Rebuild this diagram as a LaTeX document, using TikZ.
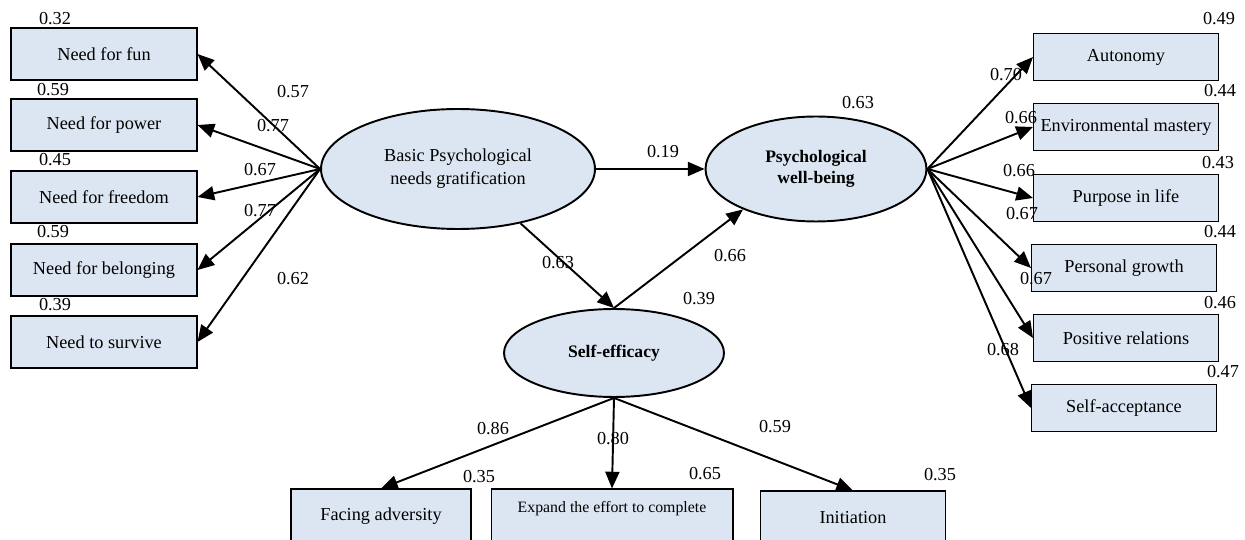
\documentclass[tikz,border=0pt]{standalone}
\usepackage{fontspec}
\setmainfont{Liberation Serif}
\usetikzlibrary{shapes.geometric,arrows.meta}

\definecolor{boxblue}{RGB}{220,230,242}

\tikzset{observed/.style={draw, line width=0.6pt, fill=boxblue, minimum width=3.72cm, minimum height=1.04cm, inner sep=0pt}}
\tikzset{latent/.style={draw, ellipse, line width=1.1pt, fill=boxblue, align=center, inner sep=0pt}}
\tikzset{coef/.style={inner sep=0pt}}

\begin{document}
\begin{tikzpicture}[x=0.02cm, y=-0.02cm, line width=1.1pt, >={Triangle[length=9.5pt,width=8pt]}, font=\fontsize{10.4}{13}\selectfont]

	\useasboundingbox (0,0) rectangle (1245,540);
	\clip (0,0) rectangle (1245,540);

	\node[latent, minimum width=5.48cm, minimum height=2.4cm] (basic) at (458,169) {Basic Psychological\\needs gratification};
	\node[latent, font=\bfseries, minimum width=4.42cm, minimum height=2.1cm] (pwb) at (816,169) {Psychological\\well-being};
	\node[latent, font=\bfseries, minimum width=4.4cm, minimum height=1.76cm] (selfeff) at (614,353) {Self-efficacy};

	\node[observed] (fun) at (104,54) {Need for fun};
	\node[observed] (power) at (104,125) {Need for power};
	\node[observed] (freedom) at (104,197) {Need for freedom};
	\node[observed] (belonging) at (104,270) {Need for belonging};
	\node[observed] (survive) at (104,342) {Need to survive};

	\node[observed, minimum width=3.7cm, minimum height=0.94cm] (autonomy) at (1126,57) {Autonomy};
	\node[observed, minimum width=3.7cm, minimum height=0.94cm] (mastery) at (1126,127) {Environmental mastery};
	\node[observed, minimum width=3.7cm, minimum height=0.94cm] (purpose) at (1126,198) {Purpose in life};
	\node[observed, minimum width=3.7cm, minimum height=0.94cm] (growth) at (1124,268) {Personal growth};
	\node[observed, minimum width=3.7cm, minimum height=0.94cm] (relations) at (1126,338) {Positive relations};
	\node[observed, minimum width=3.7cm, minimum height=0.94cm] (acceptance) at (1124,408) {Self-acceptance};

	\node[observed, minimum width=3.6cm, minimum height=1.08cm] (adversity) at (381,516) {Facing adversity};
	\node[observed, minimum width=4.84cm, minimum height=1.08cm, align=center, font=\fontsize{9}{10.5}\selectfont] (effort) at (612,516) {Expand the effort to complete\\ \mbox{}};
	\node[observed, minimum width=3.7cm, minimum height=1.08cm] (initiation) at (853,518) {Initiation};

	% error variances
	\node[coef] (fun-err) at (55,19) {0.32};
	\node[coef] (power-err) at (53,90) {0.59};
	\node[coef] (freedom-err) at (55,160) {0.45};
	\node[coef] (belonging-err) at (53,232) {0.59};
	\node[coef] (survive-err) at (55,305) {0.39};
	\node[coef] (autonomy-err) at (1219,19) {0.49};
	\node[coef] (mastery-err) at (1220,91) {0.44};
	\node[coef] (purpose-err) at (1218,163) {0.43};
	\node[coef] (growth-err) at (1220,232) {0.44};
	\node[coef] (relations-err) at (1220,303) {0.46};
	\node[coef] (acceptance-err) at (1223,372) {0.47};
	\node[coef] (adversity-err) at (479,477) {0.35};
	\node[coef] (effort-err) at (705,474) {0.65};
	\node[coef] (initiation-err) at (940,475) {0.35};
	\node[coef] (pwb-err) at (858,103) {0.63};
	\node[coef] (selfeff-err) at (699,299) {0.39};

	% loadings and paths
	\node[coef] (fun-load) at (293,92) {0.57};
	\node[coef] (power-load) at (273,126) {0.77};
	\node[coef] (freedom-load) at (260,170) {0.67};
	\node[coef] (belonging-load) at (260,211) {0.77};
	\node[coef] (survive-load) at (293,279) {0.62};
	\node[coef] (autonomy-load) at (1006,75) {0.70};
	\node[coef] (mastery-load) at (1021,118) {0.66};
	\node[coef] (purpose-load) at (1019,171) {0.66};
	\node[coef] (growth-load) at (1022,214) {0.67};
	\node[coef] (relations-load) at (1036,279) {0.67};
	\node[coef] (acceptance-load) at (1003,350) {0.68};
	\node[coef] (adversity-load) at (493,429) {0.86};
	\node[coef] (effort-load) at (613,439) {0.80};
	\node[coef] (initiation-load) at (775,427) {0.59};
	\node[coef] (basic-pwb) at (663,152) {0.19};
	\node[coef] (basic-selfeff) at (558,263) {0.63};
	\node[coef] (selfeff-pwb) at (730,256) {0.66};

	\draw[->] (basic.west) -- (fun.east);
	\draw[->] (basic.west) -- (power.east);
	\draw[->] (basic.west) -- (freedom.east);
	\draw[->] (basic.west) -- (belonging.east);
	\draw[->] (basic.west) -- (survive.east);

	\draw[->] (basic.east) -- (pwb.west);
	\draw[->] (basic.-41) -- (selfeff.north);
	\draw[->] (selfeff.north) -- (pwb.-151);

	\draw[->] (pwb.east) -- (autonomy.west);
	\draw[->] (pwb.east) -- (mastery.west);
	\draw[->] (pwb.east) -- (purpose.west);
	\draw[->] (pwb.east) -- (growth.west);
	\draw[->] (pwb.east) -- (relations.west);
	\draw[->] (pwb.east) -- (acceptance.west);

	\draw[->] (selfeff.south) -- (adversity.north);
	\draw[->] (selfeff.south) -- (effort.north);
	\draw[->] (selfeff.south) -- (initiation.north);
\end{tikzpicture}
\end{document}
